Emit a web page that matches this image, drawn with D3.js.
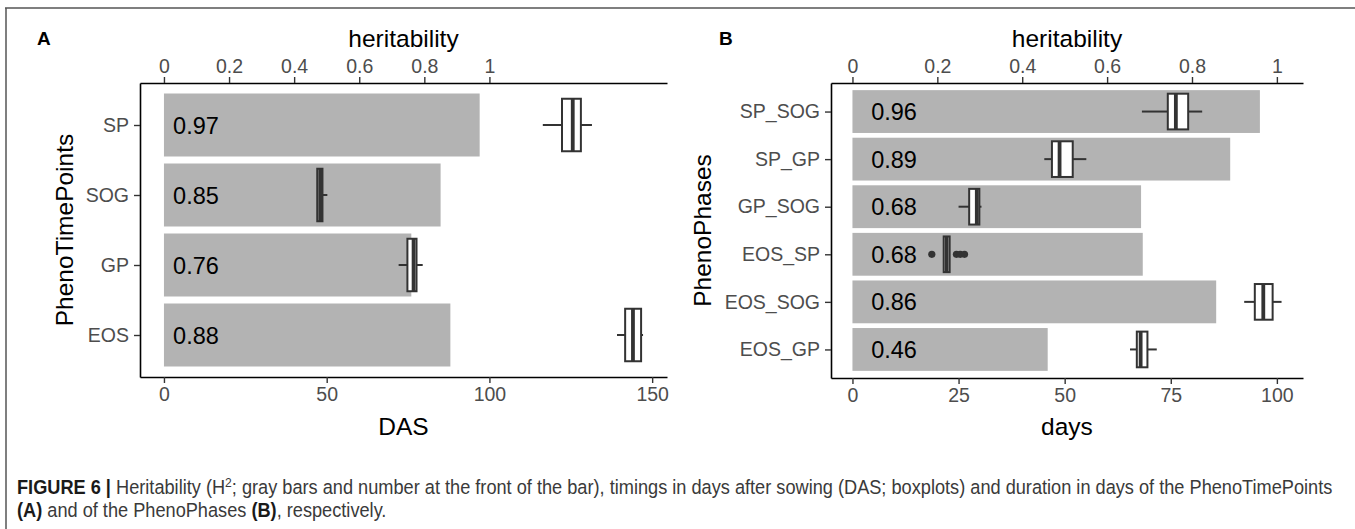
<!DOCTYPE html>
<html lang="en">
  <head>
    <meta charset="UTF-8" />
    <title>Heritability and timings</title>
    <script src="https://d3js.org/d3.v7.min.js"></script>
    <style>
      html,
      body {
        margin: 0;
        padding: 0;
        background: #fff;
        font-family: "Liberation Sans", Arial, sans-serif;
      }
      svg {
        display: block;
      }
      .tick text {
        fill: #4d4d4d;
        font-size: 19.5px;
        font-family: "Liberation Sans", Arial, sans-serif;
      }
      .tick line {
        stroke: #333;
        stroke-width: 1.4;
      }
      .domain {
        stroke: #000;
        stroke-width: 1.6;
      }
      .axis-title {
        font-size: 24.5px;
        fill: #000;
      }
      .tag {
        font-size: 19px;
        font-weight: bold;
      }
      .h2-label {
        font-size: 23.5px;
        fill: #000;
      }
    </style>
  </head>
  <body>
    <svg id="fig" width="1355" height="529"></svg>

    <script>
      // ---- data ----
      // panel A: PhenoTimePoints
      const timePoints = ["SP", "SOG", "GP", "EOS"];
      const timePointH2 = [0.97, 0.85, 0.76, 0.88];
      // [lower whisker, q1, median, q3, upper whisker] in DAS
      const timePointBoxes = [
        [116.4, 122.3, 125.6, 128.1, 131.5],
        [47.1, 47.1, 48.0, 48.7, 50.2],
        [72.1, 74.8, 76.7, 77.6, 79.5],
        [139.2, 141.7, 144.1, 146.6, 147.2],
      ];
      const timePointOutliers = [[], [], [], []];
      const dasTicks = [0, 50, 100, 150];

      // panel B: PhenoPhases
      const phases = ["SP_SOG", "SP_GP", "GP_SOG", "EOS_SP", "EOS_SOG", "EOS_GP"];
      const phaseH2 = [0.96, 0.89, 0.68, 0.684, 0.857, 0.46];
      // [lower whisker, q1, median, q3, upper whisker] in days
      const phaseBoxes = [
        [68.2, 74.3, 76.2, 79.1, 82.4],
        [45.2, 47.0, 48.8, 51.9, 55.1],
        [25.0, 27.5, 29.3, 29.9, 30.4],
        [21.5, 21.5, 22.2, 22.9, 22.9],
        [92.3, 94.8, 96.8, 99.0, 101.1],
        [65.4, 67.0, 67.9, 69.5, 71.7],
      ];
      const phaseOutliers = [[], [], [], [18.7, 24.5, 25.4, 26.4], [], []];
      const dayTicks = [0, 25, 50, 75, 100];

      const heritTicks = [0, 0.2, 0.4, 0.6, 0.8, 1];

      const svg = d3.select("#fig");

      // figure frame (top and left edges)
      svg.append("line")
        .attr("x1", 5).attr("x2", 1355).attr("y1", 8).attr("y2", 8)
        .attr("stroke", "#555").attr("stroke-width", 1.5);
      svg.append("line")
        .attr("x1", 6).attr("x2", 6).attr("y1", 8).attr("y2", 529)
        .attr("stroke", "#555").attr("stroke-width", 1.5);

      function drawPanel(p) {
        const g = svg.append("g");

        // x extent covers bars (h2 * 100) and boxes, expanded 5% like ggplot
        const allX = [0];
        p.boxes.forEach((b) => allX.push(...b));
        p.outliers.forEach((o) => allX.push(...o));
        p.h2.forEach((h) => allX.push(h * 100));
        const [xmin, xmax] = d3.extent(allX);
        const pad = (xmax - xmin) * 0.05;

        const x = d3.scaleLinear()
          .domain([xmin - pad, xmax + pad])
          .range([p.left, p.right]);
        const xh = d3.scaleLinear()
          .domain(x.domain().map((v) => v / 100))
          .range([p.left, p.right]);
        const y = d3.scalePoint()
          .domain(p.cats)
          .range([p.top, p.bottom])
          .padding(0.6);
        const step = y.step();

        const rows = p.cats.map((c, i) => ({
          cat: c,
          h2: p.h2[i],
          box: p.boxes[i],
          out: p.outliers[i],
        }));

        // heritability bars
        g.selectAll(".bar")
          .data(rows)
          .enter()
          .append("rect")
          .attr("class", "bar")
          .attr("x", xh(0))
          .attr("y", (d) => y(d.cat) - step * 0.45)
          .attr("width", (d) => xh(d.h2) - xh(0))
          .attr("height", step * 0.9)
          .attr("fill", "#b3b3b3");

        g.selectAll(".h2-label")
          .data(rows)
          .enter()
          .append("text")
          .attr("class", "h2-label")
          .attr("x", x(p.labelAt))
          .attr("y", (d) => y(d.cat) + 8.5)
          .text((d) => d3.format(".2f")(d.h2));

        // boxplots
        const bw = step * 0.75;
        const box = g.selectAll(".box")
          .data(rows)
          .enter()
          .append("g")
          .attr("class", "box");

        box.append("line")
          .attr("x1", (d) => x(d.box[0]))
          .attr("x2", (d) => x(d.box[1]))
          .attr("y1", (d) => y(d.cat))
          .attr("y2", (d) => y(d.cat))
          .attr("stroke", "#333")
          .attr("stroke-width", 2);
        box.append("line")
          .attr("x1", (d) => x(d.box[3]))
          .attr("x2", (d) => x(d.box[4]))
          .attr("y1", (d) => y(d.cat))
          .attr("y2", (d) => y(d.cat))
          .attr("stroke", "#333")
          .attr("stroke-width", 2);
        box.append("rect")
          .attr("x", (d) => x(d.box[1]))
          .attr("y", (d) => y(d.cat) - bw / 2)
          .attr("width", (d) => x(d.box[3]) - x(d.box[1]))
          .attr("height", bw)
          .attr("fill", "#fff")
          .attr("stroke", "#333")
          .attr("stroke-width", 2);
        box.append("line")
          .attr("x1", (d) => x(d.box[2]))
          .attr("x2", (d) => x(d.box[2]))
          .attr("y1", (d) => y(d.cat) - bw / 2)
          .attr("y2", (d) => y(d.cat) + bw / 2)
          .attr("stroke", "#333")
          .attr("stroke-width", 3.8);
        box.selectAll("circle")
          .data((d) => d.out.map((v) => ({ v: v, cat: d.cat })))
          .enter()
          .append("circle")
          .attr("cx", (d) => x(d.v))
          .attr("cy", (d) => y(d.cat))
          .attr("r", 3.6)
          .attr("fill", "#333");

        // axes
        g.append("g")
          .attr("transform", `translate(0,${p.bottom})`)
          .call(d3.axisBottom(x).tickValues(p.xTicks).tickSize(6).tickSizeOuter(0).tickPadding(4));
        g.append("g")
          .attr("transform", `translate(0,${p.top})`)
          .call(d3.axisTop(xh).tickValues(heritTicks).tickFormat(d3.format("")).tickSize(6).tickSizeOuter(0).tickPadding(4));
        g.append("g")
          .attr("transform", `translate(${p.left},0)`)
          .call(d3.axisLeft(y).tickSize(6).tickSizeOuter(0).tickPadding(5));

        const cx = (p.left + p.right) / 2;
        g.append("text")
          .attr("class", "axis-title")
          .attr("x", cx)
          .attr("y", 47)
          .attr("text-anchor", "middle")
          .text("heritability");
        g.append("text")
          .attr("class", "axis-title")
          .attr("x", cx)
          .attr("y", 435)
          .attr("text-anchor", "middle")
          .text(p.xTitle);
        g.append("text")
          .attr("class", "axis-title")
          .attr("transform", `translate(${p.yTitleX},${(p.top + p.bottom) / 2}) rotate(-90)`)
          .attr("text-anchor", "middle")
          .text(p.yTitle);
        g.append("text")
          .attr("class", "tag")
          .attr("x", p.tagX)
          .attr("y", 45)
          .text(p.tag);
      }

      drawPanel({
        tag: "A",
        tagX: 37,
        cats: timePoints,
        h2: timePointH2,
        boxes: timePointBoxes,
        outliers: timePointOutliers,
        xTicks: dasTicks,
        xTitle: "DAS",
        yTitle: "PhenoTimePoints",
        yTitleX: 73,
        labelAt: 2.8,
        left: 140,
        right: 667,
        top: 83,
        bottom: 377,
      });

      drawPanel({
        tag: "B",
        tagX: 719,
        cats: phases,
        h2: phaseH2,
        boxes: phaseBoxes,
        outliers: phaseOutliers,
        xTicks: dayTicks,
        xTitle: "days",
        yTitle: "PhenoPhases",
        yTitleX: 711,
        labelAt: 4.4,
        left: 831,
        right: 1303,
        top: 83,
        bottom: 378,
      });

      // caption
      const cap = svg.append("g").attr("font-family", "'Liberation Sans Narrow', 'Liberation Sans', Arial, sans-serif")
        .attr("font-size", 19.5);
      const line1 = cap.append("text").attr("x", 0).attr("y", 0).attr("fill", "#3a3a3a");
      line1.append("tspan").attr("font-weight", "bold").attr("fill", "#1a1a1a").text("FIGURE 6 | ");
      line1.append("tspan").text("Heritability (H");
      line1.append("tspan").attr("font-size", 13).attr("dy", -7.5).text("2");
      line1.append("tspan").attr("dy", 7.5)
        .text("; gray bars and number at the front of the bar), timings in days after sowing (DAS; boxplots) and duration in days of the PhenoTimePoints");
      const line2 = cap.append("text").attr("x", 0).attr("y", 23).attr("fill", "#3a3a3a");
      line2.append("tspan").attr("font-weight", "bold").attr("fill", "#1a1a1a").text("(A)");
      line2.append("tspan").text(" and of the PhenoPhases ");
      line2.append("tspan").attr("font-weight", "bold").attr("fill", "#1a1a1a").text("(B)");
      line2.append("tspan").text(", respectively.");

      const w1 = line1.node().getComputedTextLength();
      const sx = (1333 - 17) / w1;
      cap.attr("transform", `translate(17,494) scale(${sx},1)`);
    </script>
  </body>
</html>
